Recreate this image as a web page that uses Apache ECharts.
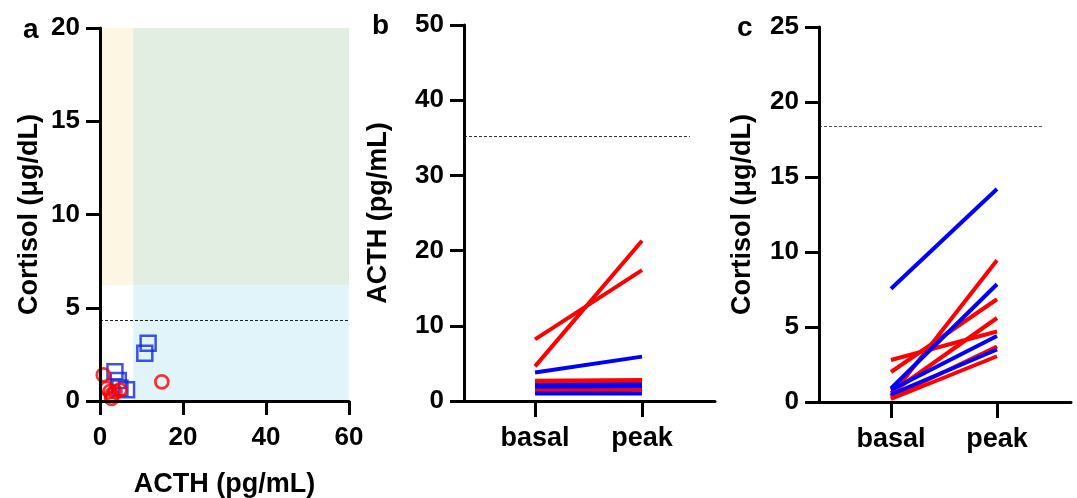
<!DOCTYPE html>
<html>
<head>
<meta charset="utf-8">
<script src="https://cdn.jsdelivr.net/npm/echarts@6/dist/echarts.min.js"></script>
<style>
  html, body { margin: 0; padding: 0; background: #fff; }
  #chart-container { width: 1077px; height: 498px; }
</style>
</head>
<body>
<div id="chart-container"></div>
<script>
// panel a: basal ACTH vs cortisol
var sqActh = [3.6, 4.4, 4.8, 6.4, 10.8, 11.6];
var sqCort = [1.57, 1.1, 0.7, 0.6, 2.56, 3.1];
var circActh = [0.8, 1.6, 2.4, 2.8, 2.8, 3.6, 4.8, 14.9];
var circCort = [1.4, 0.68, 0.5, 0.32, 0.14, 0.5, 0.59, 1.03];
var acthCut = 8;
var cortCut = 6.2;
var cortRefA = 4.35;

// panel b / c: basal -> peak
var phases = ['basal', 'peak'];
var acthBasalRed = [8.2, 4.6, 2.7, 2.5, 1.7, 1.4];
var acthPeakRed = [17.4, 21.3, 2.8, 2.6, 1.8, 1.5];
var acthBasalBlue = [3.8, 2.1, 1.9, 1.0];
var acthPeakBlue = [5.9, 2.2, 2.0, 1.0];
var acthRef = 35.2;

var cortBasalRed = [0.4, 2.0, 0.6, 2.8, 0.3, 0.2];
var cortPeakRed = [9.45, 6.85, 5.6, 4.7, 3.7, 3.05];
var cortBasalBlue = [7.55, 0.9, 0.8, 0.5];
var cortPeakBlue = [14.2, 7.85, 4.4, 3.5];
var cortRefC = 18.4;

var aTicks = { x: [0, 60, 20], y: [0, 20, 5] };
var bTicks = [0, 50, 10];
var cTicks = [0, 25, 5];

var RED = '#ff0000';
var BLUE = '#0000ff';
var FONT = 'Liberation Sans';

var dom = document.getElementById('chart-container');
var myChart = echarts.init(dom, null, { renderer: 'canvas' });

function valueAxis(idx, range, extra) {
  var ax = {
    type: 'value',
    gridIndex: idx,
    z: 10,
    min: range[0],
    max: range[1],
    interval: range[2],
    splitLine: { show: false },
    axisLine: { show: true, lineStyle: { color: '#000', width: 3 } },
    axisTick: { show: true, length: 14, lineStyle: { color: '#000', width: 3 } },
    axisLabel: { color: '#000', fontFamily: FONT, fontWeight: 'bold', fontSize: 26, margin: 20 },
    nameTextStyle: { color: '#000', fontFamily: FONT, fontWeight: 'bold', fontSize: 27 }
  };
  for (var k in extra) ax[k] = extra[k];
  return ax;
}

function phaseAxis(idx, min, max) {
  return {
    type: 'value',
    gridIndex: idx,
    z: 10,
    min: min,
    max: max,
    splitLine: { show: false },
    axisLine: { show: true, lineStyle: { color: '#000', width: 3 } },
    axisTick: { show: true, length: 16, customValues: [1, 2], lineStyle: { color: '#000', width: 3 } },
    axisLabel: {
      customValues: [1, 2],
      color: '#000', fontFamily: FONT, fontWeight: 'bold', fontSize: 27, margin: 24,
      formatter: function (v) { return phases[Math.round(v) - 1]; }
    }
  };
}

function pairSeries(axisIdx, basal, peak, color) {
  return basal.map(function (b, i) {
    return {
      type: 'line',
      xAxisIndex: axisIdx,
      yAxisIndex: axisIdx,
      data: [[1, b], [2, peak[i]]],
      symbol: 'none',
      silent: true,
      animation: false,
      lineStyle: { color: color, width: 4 }
    };
  });
}

function refLine(x0, x1, y, color) {
  return {
    symbol: 'none',
    silent: true,
    label: { show: false },
    lineStyle: { color: color, type: [3, 2], width: 1 },
    data: [[{ coord: [x0, y] }, { coord: [x1, y] }]]
  };
}

var series = [];

// shaded zones sit on an empty series drawn underneath the axes
series.push({
  type: 'scatter',
  xAxisIndex: 0,
  yAxisIndex: 0,
  z: -1,
  data: [],
  silent: true,
  markArea: {
    silent: true,
    data: [
      [{ coord: [0, cortCut], itemStyle: { color: '#fdf6e3' } }, { coord: [acthCut, 20] }],
      [{ coord: [acthCut, cortCut], itemStyle: { color: '#e3eee3' } }, { coord: [60, 20] }],
      [{ coord: [acthCut, 0], itemStyle: { color: '#e1f4fa' } }, { coord: [60, cortCut] }]
    ]
  },
  markLine: refLine(0, 60, cortRefA, '#222')
});
series.push({
  type: 'scatter',
  xAxisIndex: 0,
  yAxisIndex: 0,
  data: sqActh.map(function (x, i) { return [x, sqCort[i]]; }),
  symbol: 'rect',
  symbolSize: 15,
  itemStyle: { color: 'rgba(0,0,0,0)', borderColor: '#1028dc', borderWidth: 2.5 },
  animation: false
});
series.push({
  type: 'scatter',
  xAxisIndex: 0,
  yAxisIndex: 0,
  data: circActh.map(function (x, i) { return [x, circCort[i]]; }),
  symbol: 'circle',
  symbolSize: 13,
  itemStyle: { color: 'rgba(0,0,0,0)', borderColor: RED, borderWidth: 2.8 },
  animation: false
});

var bSeries = pairSeries(1, acthBasalRed, acthPeakRed, RED).concat(pairSeries(1, acthBasalBlue, acthPeakBlue, BLUE));
bSeries[0].markLine = refLine(0.336, 2.448, acthRef, '#333');
var cSeries = pairSeries(2, cortBasalRed, cortPeakRed, RED).concat(pairSeries(2, cortBasalBlue, cortPeakBlue, BLUE));
cSeries[0].markLine = refLine(0.321, 2.434, cortRefC, '#555');
series = series.concat(bSeries, cSeries);

var option = {
  backgroundColor: '#fff',
  animation: false,
  grid: [
    { left: 100, top: 28, width: 249, height: 373, outerBoundsMode: 'none' },
    { left: 464, top: 25, width: 251, height: 376, outerBoundsMode: 'none' },
    { left: 819, top: 27, width: 252, height: 375, outerBoundsMode: 'none' }
  ],
  xAxis: [
    valueAxis(0, aTicks.x, { name: 'ACTH (pg/mL)', nameLocation: 'middle', nameGap: 70, axisLabel: { color: '#000', fontFamily: FONT, fontWeight: 'bold', fontSize: 26, margin: 24 } }),
    phaseAxis(1, 0.336, 2.682),
    phaseAxis(2, 0.321, 2.698)
  ],
  yAxis: [
    valueAxis(0, aTicks.y, { name: 'Cortisol (μg/dL)', nameLocation: 'middle', nameGap: 57 }),
    valueAxis(1, bTicks, { name: 'ACTH (pg/mL)', nameLocation: 'middle', nameGap: 72 }),
    valueAxis(2, cTicks, { name: 'Cortisol (μg/dL)', nameLocation: 'middle', nameGap: 63 })
  ],
  graphic: [
    { type: 'text', style: { x: 23, y: 44, text: 'a', font: 'bold 28px "Liberation Sans"', fill: '#000', verticalAlign: 'bottom' } },
    { type: 'text', style: { x: 372, y: 40, text: 'b', font: 'bold 28px "Liberation Sans"', fill: '#000', verticalAlign: 'bottom' } },
    { type: 'text', style: { x: 737, y: 42, text: 'c', font: 'bold 28px "Liberation Sans"', fill: '#000', verticalAlign: 'bottom' } }
  ],
  series: series
};

if (option && typeof option === 'object') {
  myChart.setOption(option);
}

window.addEventListener('resize', myChart.resize);
</script>
</body>
</html>
